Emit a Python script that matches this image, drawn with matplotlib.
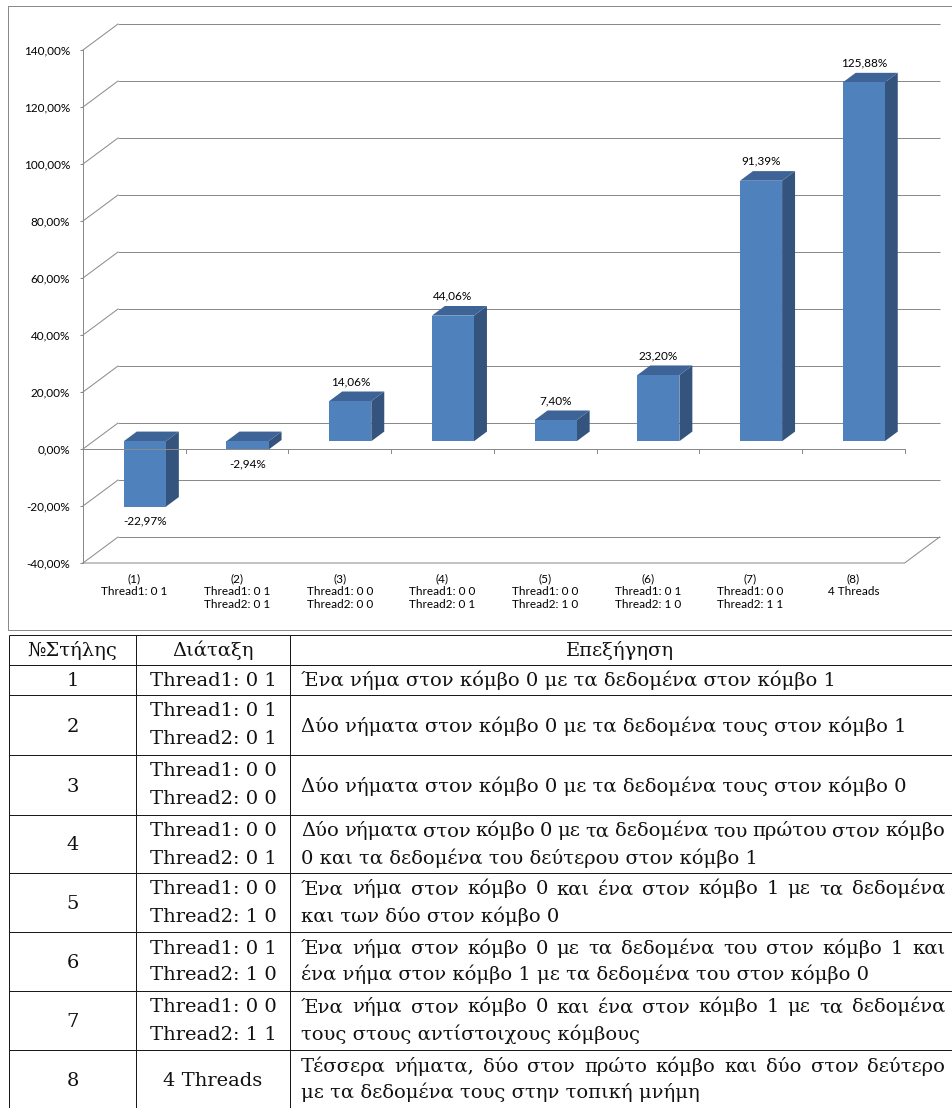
import matplotlib
matplotlib.use("Agg")
import matplotlib.pyplot as plt
from matplotlib.patches import Polygon, Rectangle

# ---- chart data -------------------------------------------------------
column_ids = ["(1)", "(2)", "(3)", "(4)", "(5)", "(6)", "(7)", "(8)"]
layouts = [
    ["Thread1: 0 1"],
    ["Thread1: 0 1", "Thread2: 0 1"],
    ["Thread1: 0 0", "Thread2: 0 0"],
    ["Thread1: 0 0", "Thread2: 0 1"],
    ["Thread1: 0 0", "Thread2: 1 0"],
    ["Thread1: 0 1", "Thread2: 1 0"],
    ["Thread1: 0 0", "Thread2: 1 1"],
    ["4 Threads"],
]
speedup_pct = [-22.97, -2.94, 14.06, 44.06, 7.40, 23.20, 91.39, 125.88]
y_ticks = [-40, -20, 0, 20, 40, 60, 80, 100, 120, 140]

# ---- table data -------------------------------------------------------
table_header = ["№Στήλης", "Διάταξη", "Επεξήγηση"]
row_ids = ["1", "2", "3", "4", "5", "6", "7", "8"]
explanations = [
    ["Ένα νήμα στον κόμβο 0 με τα δεδομένα στον κόμβο 1"],
    ["Δύο νήματα στον κόμβο 0 με τα δεδομένα τους στον κόμβο 1"],
    ["Δύο νήματα στον κόμβο 0 με τα δεδομένα τους στον κόμβο 0"],
    ["Δύο νήματα στον κόμβο 0 με τα δεδομένα του πρώτου στον κόμβο",
     "0 και τα δεδομένα του δεύτερου στον κόμβο 1"],
    ["Ένα νήμα στον κόμβο 0 και ένα στον κόμβο 1 με τα δεδομένα",
     "και των δύο στον κόμβο 0"],
    ["Ένα νήμα στον κόμβο 0 με τα δεδομένα του στον κόμβο 1 και",
     "ένα νήμα στον κόμβο 1 με τα δεδομένα του στον κόμβο 0"],
    ["Ένα νήμα στον κόμβο 0 και ένα στον κόμβο 1 με τα δεδομένα",
     "τους στους αντίστοιχους κόμβους"],
    ["Τέσσερα νήματα, δύο στον πρώτο κόμβο και δύο στον δεύτερο",
     "με τα δεδομένα τους στην τοπική μνήμη"],
]

# ---- styling ----------------------------------------------------------
W, H, DPI = 952, 1108, 100
GRID = "#8a8a8a"
FRONT = "#4f81bd"
SIDE = "#34547d"
TOP = "#3e6497"
CHART_FONT = "Lato"
CHART_SIZE = 8.5
TABLE_FONT = ["DejaVu Serif", "DejaVu Sans"]
TABLE_SIZE = 14
PX = 72.0 / DPI  # one pixel in points

fig = plt.figure(figsize=(W / DPI, H / DPI), dpi=DPI)
fig.patch.set_facecolor("white")

# overlay in pixel units for frame and table
ov = fig.add_axes([0, 0, 1, 1])
ov.set_xlim(0, W)
ov.set_ylim(H, 0)
ov.axis("off")
ov.add_patch(Rectangle((8, 6), W + 20, 630 - 6, fill=False,
                       edgecolor=GRID, lw=PX))

# ---- 3D-style column chart --------------------------------------------
ax_l, ax_r, ax_t, ax_b = 83, 904.6, 50, 563
ax = fig.add_axes([ax_l / W, 1 - ax_b / H, (ax_r - ax_l) / W, (ax_b - ax_t) / H])
ax.set_facecolor("none")
n = len(speedup_pct)
ax.set_xlim(-0.5, n - 0.5)
ax.set_ylim(y_ticks[0], y_ticks[-1])

ppx = (ax_r - ax_l) / n                       # pixels per category
ppy = (ax_b - ax_t) / (y_ticks[-1] - y_ticks[0])  # pixels per percent
DX = 35 / ppx   # depth offset (x) in data units
DY = 26 / ppy   # depth offset (y) in data units

x_lo, x_hi = -0.5, n - 0.5
for t in y_ticks:
    ax.plot([x_lo + DX, x_hi + DX], [t + DY, t + DY], color=GRID, lw=PX,
            clip_on=False, zorder=1, solid_capstyle="butt")
    ax.plot([x_lo, x_lo + DX], [t, t + DY], color=GRID, lw=PX,
            clip_on=False, zorder=1)
# floor outline
fl = y_ticks[0]
ax.plot([x_lo, x_hi, x_hi + DX], [fl, fl, fl + DY], color=GRID, lw=PX,
        clip_on=False, zorder=1)

# bars
BW = 0.41       # bar width (category units)
F0 = 0.30       # bar front position within the depth
FD = 0.37       # bar depth fraction
for i, v in enumerate(speedup_pct):
    x0 = i - BW / 2 + F0 * DX
    lo = min(0, v) + F0 * DY
    hi = max(0, v) + F0 * DY
    ddx, ddy = FD * DX, FD * DY
    front = Rectangle((x0, lo), BW, hi - lo, facecolor=FRONT,
                      edgecolor="none", zorder=2, clip_on=False)
    side = Polygon([(x0 + BW, lo), (x0 + BW, hi), (x0 + BW + ddx, hi + ddy),
                    (x0 + BW + ddx, lo + ddy)], closed=True, facecolor=SIDE,
                   edgecolor="none", zorder=2, clip_on=False)
    top = Polygon([(x0, hi), (x0 + BW, hi), (x0 + BW + ddx, hi + ddy),
                   (x0 + ddx, hi + ddy)], closed=True, facecolor=TOP,
                  edgecolor="none", zorder=2, clip_on=False)
    for p in (side, top, front):
        ax.add_patch(p)
    label = f"{v:.2f}%".replace(".", ",")
    cx = i + F0 * DX
    if v >= 0:
        ax.annotate(label, (cx, hi + ddy), xytext=(0, 10 * PX),
                    textcoords="offset points", ha="center", va="center",
                    fontsize=CHART_SIZE, family=CHART_FONT, zorder=4)
    else:
        ax.annotate(label, (cx, lo), xytext=(0, -14 * PX),
                    textcoords="offset points", ha="center", va="center",
                    fontsize=CHART_SIZE, family=CHART_FONT, zorder=4)

# front zero axis with category tick marks
ax.plot([x_lo, x_hi], [0, 0], color=GRID, lw=PX, zorder=3, clip_on=False)
for k in range(1, n + 1):
    xb = x_lo + k
    ax.plot([xb, xb], [0, -4 / ppy], color=GRID, lw=PX, zorder=3, clip_on=False)

for s in ("top", "right", "bottom"):
    ax.spines[s].set_visible(False)
ax.spines["left"].set_color(GRID)
ax.spines["left"].set_linewidth(PX)
ax.set_yticks(y_ticks)
ax.set_yticklabels([f"{t:.2f}%".replace(".", ",") for t in y_ticks],
                   family=CHART_FONT, fontsize=CHART_SIZE)
ax.tick_params(axis="y", length=3 * PX, width=PX, color=GRID, pad=10 * PX)
ax.set_xticks(range(n))
ax.set_xticklabels([cid + "\n" + "\n".join(lay) for cid, lay in zip(column_ids, layouts)],
                   family=CHART_FONT, fontsize=CHART_SIZE, linespacing=1.2)
ax.tick_params(axis="x", length=0, pad=10 * PX)

# ---- table --------------------------------------------------------------
row_edges = [635, 665, 695, 755, 815, 873, 932, 991, 1050, H]
col_edges = [9, 136, 290, W]
LINE = "#1a1a1a"
for y in row_edges[:-1]:
    ov.plot([col_edges[0], W], [y, y], color=LINE, lw=PX, solid_capstyle="butt")
for x in col_edges[:-1]:
    ov.plot([x, x], [row_edges[0], H], color=LINE, lw=PX, solid_capstyle="butt")

BASE = 6.5  # baseline offset from a line's visual centre, in px
tkw = dict(family=TABLE_FONT, fontsize=TABLE_SIZE, color="#111111")
renderer = fig.canvas.get_renderer()


def put(x, yc, s, ha="center"):
    return ov.text(x, yc + BASE, s, ha=ha, va="baseline", **tkw)


def put_justified(x0, x1, yc, s):
    words = s.split()
    items = [ov.text(0, yc + BASE, w, ha="left", va="baseline", **tkw) for w in words]
    widths = [t.get_window_extent(renderer).width for t in items]
    gap = (x1 - x0 - sum(widths)) / max(len(words) - 1, 1)
    x = x0
    for t, w in zip(items, widths):
        t.set_x(x)
        x += w + gap


def line_centres(top, bot, count):
    if count == 1:
        return [(top + bot) / 2]
    return [top + 15, top + 42]


hc = (row_edges[0] + row_edges[1]) / 2
for j, h in enumerate(table_header):
    put((col_edges[j] + col_edges[j + 1]) / 2 if j < 2 else 620, hc, h)

TXT_L, TXT_R = 301, 945
for r in range(len(row_ids)):
    top, bot = row_edges[r + 1], row_edges[r + 2]
    put((col_edges[0] + col_edges[1]) / 2, (top + bot) / 2, row_ids[r])
    for yc, s in zip(line_centres(top, bot, len(layouts[r])), layouts[r]):
        put((col_edges[1] + col_edges[2]) / 2, yc, s)
    lines = explanations[r]
    for k, (yc, s) in enumerate(zip(line_centres(top, bot, len(lines)), lines)):
        if len(lines) > 1 and k < len(lines) - 1:
            put_justified(TXT_L, TXT_R, yc, s)
        else:
            put(TXT_L, yc, s, ha="left")

fig.savefig("out.png", dpi=DPI)
